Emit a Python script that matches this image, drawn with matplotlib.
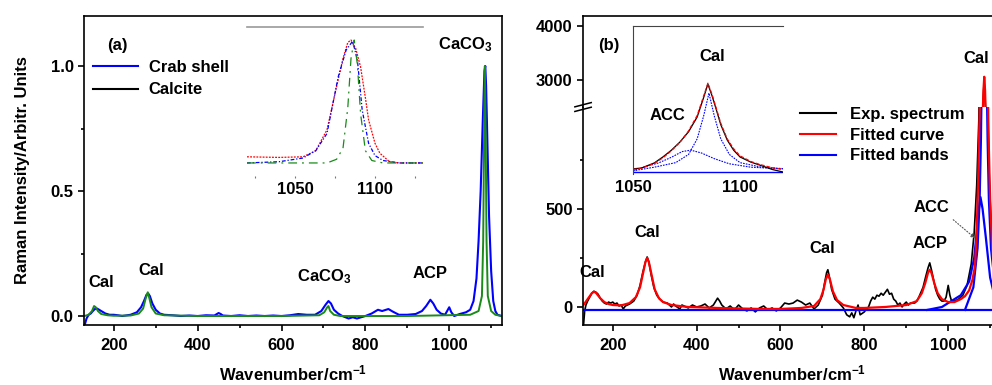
import matplotlib
matplotlib.use('Agg')
from matplotlib import pyplot as plt
from matplotlib.lines import Line2D

plt.rcParams['font.family'] = ['Liberation Sans', 'DejaVu Sans']
plt.rcParams['font.weight'] = 'bold'
plt.rcParams['font.size'] = 12
plt.rcParams['mathtext.fontset'] = 'custom'
plt.rcParams['mathtext.rm'] = 'Liberation Sans:bold'
plt.rcParams['mathtext.bf'] = 'Liberation Sans:bold'
plt.rcParams['mathtext.default'] = 'bf'

#######################################################################################################################
# data
# (a) crab shell (blue) vs calcite (green), normalised
crab_x = [130, 135, 140, 145, 150, 155, 160, 165, 170, 180, 190, 200, 210, 220, 240, 255, 265, 272, 278, 282, 286,
          292, 300, 310, 320, 340, 360, 380, 400, 420, 440, 450, 455, 460, 480, 500, 520, 540, 560, 580, 600, 620, 640,
          660, 680, 695, 705, 712, 718, 725, 735, 745, 760, 770, 780, 790, 800, 815, 830, 840, 855, 865, 880, 900, 920,
          935, 945, 955, 962, 970, 980, 990, 1000, 1005, 1012, 1025, 1040, 1050, 1058, 1065, 1070, 1075, 1080, 1084,
          1086, 1088, 1091, 1095, 1100, 1105, 1110, 1115, 1125]
crab_y = [-0.04, -0.01, 0.005, 0.01, 0.02, 0.028, 0.03, 0.025, 0.02, 0.01, 0.005, 0.005, 0.003, 0.0, 0.005, 0.015,
          0.035, 0.06, 0.085, 0.09, 0.08, 0.05, 0.025, 0.01, 0.005, 0.003, 0.0, 0.002, 0.0, 0.003, 0.002, 0.012, 0.008,
          0.002, 0.0, 0.003, 0.0, 0.002, 0.0, 0.002, 0.0, 0.003, 0.008, 0.005, 0.005, 0.02, 0.045, 0.06, 0.05, 0.025,
          0.01, 0.0, -0.01, -0.005, -0.01, -0.005, 0.0, 0.01, 0.025, 0.02, 0.028, 0.018, 0.005, 0.005, 0.008, 0.02,
          0.04, 0.065, 0.05, 0.025, 0.01, 0.005, 0.035, 0.015, 0.0, 0.008, 0.015, 0.025, 0.06, 0.15, 0.3, 0.5, 0.78,
          0.98, 1.0, 0.92, 0.7, 0.4, 0.18, 0.06, 0.02, 0.005, 0.0]
calc_x = [130, 140, 148, 153, 157, 162, 170, 185, 200, 240, 260, 270, 276, 281, 285, 290, 300, 320, 400, 600, 690,
          702, 709, 712, 716, 725, 740, 900, 1050, 1070, 1078, 1081, 1083, 1085, 1087, 1089, 1092, 1100, 1110, 1125]
calc_y = [0.0, 0.005, 0.02, 0.04, 0.035, 0.02, 0.008, 0.003, 0.001, 0.002, 0.01, 0.03, 0.07, 0.095, 0.07, 0.035, 0.01,
          0.003, 0.0, 0.0, 0.003, 0.015, 0.035, 0.04, 0.02, 0.005, 0.0, 0.0, 0.005, 0.02, 0.08, 0.3, 0.7, 1.0, 0.7, 0.3,
          0.08, 0.02, 0.005, 0.0]
# (a) inset
ins_red_x = [1020, 1040, 1055, 1063, 1070, 1076, 1080, 1083, 1085, 1088, 1091, 1094, 1096, 1100, 1103, 1109, 1115, 1130]
ins_red_y = [0.05, 0.045, 0.05, 0.1, 0.27, 0.62, 0.85, 0.98, 1.0, 0.93, 0.78, 0.53, 0.35, 0.16, 0.08, 0.01, 0.0, 0.0]
ins_blue_x = [1020, 1040, 1055, 1063, 1070, 1077, 1082, 1086, 1089, 1092, 1096, 1100, 1105, 1115, 1130]
ins_blue_y = [0.0, 0.01, 0.04, 0.1, 0.24, 0.7, 0.92, 0.99, 0.84, 0.43, 0.16, 0.06, 0.02, 0.0, 0.0]
ins_green_x = [1020, 1070, 1076, 1080, 1083, 1085, 1087, 1089, 1091, 1094, 1098, 1105, 1130]
ins_green_y = [0.0, 0.0, 0.03, 0.12, 0.45, 0.85, 1.0, 0.8, 0.4, 0.1, 0.02, 0.0, 0.0]

# (b) experimental spectrum, fitted curve and bands
exp_x = [130, 133, 136, 140, 145, 150, 155, 160, 165, 170, 175, 180, 185, 190, 195, 200, 205, 210, 215, 220, 225, 230,
         240, 250, 258, 265, 272, 278, 282, 286, 292, 298, 305, 312, 320, 330, 340, 345, 350, 360, 365, 370, 380, 390,
         400, 410, 420, 430, 440, 450, 455, 460, 470, 480, 490, 500, 510, 520, 530, 540, 550, 560, 570, 580, 590, 600,
         610, 620, 630, 640, 645, 650, 660, 670, 680, 690, 700, 705, 710, 713, 717, 722, 730, 740, 750, 758, 765, 770,
         775, 780, 785, 790, 800, 805, 810, 815, 820, 825, 830, 835, 840, 845, 850, 855, 860, 865, 870, 875, 880, 885,
         890, 895, 900, 905, 910, 920, 925, 930, 940, 947, 952, 956, 960, 965, 970, 975, 980, 985, 990, 995, 1000, 1004,
         1008, 1015, 1025, 1035, 1045, 1055, 1062, 1068, 1073, 1078, 1083, 1086, 1089, 1093, 1098, 1104, 1110, 1118,
         1125]
exp_y = [-100, -20, 10, 30, 50, 70, 80, 75, 65, 45, 30, 20, 15, 25, 20, 25, 15, 20, 5, 10, -10, 5, 15, 30, 60, 110,
         180, 230, 255, 230, 160, 100, 60, 40, 25, 20, 0, 15, 5, -10, 10, 5, -5, 10, 0, 5, 15, -5, 10, 45, 30, 10, -10,
         5, -15, 10, -10, -20, -5, -25, -5, 5, -15, -5, -20, -5, 20, 15, 20, 35, 30, 25, 10, 20, -10, 10, 60, 120, 175,
         190, 150, 90, 40, 20, -5, -40, -50, -30, -55, -20, 10, -40, -25, -10, 0, 30, 50, 40, 60, 55, 70, 60, 75, 90,
         65, 70, 40, 30, 10, 20, 0, 15, 25, 10, 20, 20, 30, 50, 100, 160, 200, 225, 190, 140, 90, 60, 40, 30, 30, 50,
         110, 60, 30, 30, 40, 60, 110, 220, 380, 620, 950, 1600, 2600, 3000, 2500, 1200, 650, 330, 180, 90, 50]
fit_x = [130, 140, 150, 155, 160, 170, 180, 190, 200, 220, 240, 255, 265, 272, 278, 282, 286, 292, 300, 310, 320, 340,
         380, 450, 550, 600, 650, 680, 695, 703, 708, 713, 718, 725, 735, 750, 780, 800, 850, 900, 925, 937, 945, 952,
         956, 960, 967, 975, 985, 1000, 1015, 1030, 1040, 1050, 1058, 1064, 1068, 1072, 1075, 1078, 1081, 1084, 1086,
         1088, 1090, 1093, 1096, 1100, 1105, 1110, 1118, 1125]
fit_y = [10, 40, 70, 78, 72, 45, 25, 15, 10, 8, 20, 50, 100, 170, 230, 250, 230, 170, 90, 45, 25, 10, 0, -5, -10, -10,
         -5, 5, 40, 90, 140, 165, 140, 80, 35, 10, -5, -5, 0, 10, 30, 70, 120, 175, 190, 175, 120, 70, 40, 25, 25, 40,
         55, 85, 140, 210, 380, 700, 1000, 1400, 2000, 2800, 3060, 2800, 2200, 1400, 900, 550, 300, 180, 100, 60]
base_x = [130, 1125]
base_y = [-15, -15]
acc_x = [950, 985, 1000, 1030, 1050, 1062, 1068, 1072, 1077, 1082, 1090, 1100, 1110, 1125]
acc_y = [-15, 0, 20, 60, 130, 250, 380, 480, 560, 500, 350, 150, 60, 25]
cal_x = [1040, 1060, 1070, 1075, 1078, 1081, 1083, 1086, 1089, 1091, 1094, 1097, 1102, 1112, 1125]
cal_y = [-15, 100, 300, 550, 850, 1300, 1800, 2400, 1800, 1300, 850, 550, 300, 100, 40]
# (b) inset
bi_exp_x = [1050, 1054, 1060, 1064, 1068, 1072, 1076, 1080, 1083, 1085, 1087, 1089, 1091, 1094, 1097, 1100, 1105, 1109,
            1115, 1120]
bi_exp_y = [40, 70, 250, 460, 700, 990, 1350, 1870, 2550, 3030, 2600, 2110, 1600, 1060, 700, 460, 280, 180, 20, -70]
bi_fit_x = [1050, 1054, 1060, 1064, 1068, 1072, 1076, 1080, 1083, 1085, 1087, 1089, 1091, 1094, 1097, 1100, 1105, 1109,
            1115, 1120]
bi_fit_y = [20, 60, 230, 430, 680, 980, 1380, 1920, 2600, 3060, 2650, 2150, 1650, 1100, 750, 500, 300, 200, 80, 20]
bi_acc_x = [1050, 1055, 1062, 1068, 1073, 1077, 1082, 1088, 1095, 1105, 1120]
bi_acc_y = [-30, 100, 250, 450, 650, 700, 600, 400, 220, 100, 40]
bi_cal_x = [1050, 1060, 1070, 1076, 1080, 1083, 1085.5, 1088, 1091, 1095, 1100, 1110, 1120]
bi_cal_y = [-30, 100, 260, 550, 1100, 1900, 2710, 1900, 1100, 550, 260, 100, 50]
bi_base_x = [1050, 1120]
bi_base_y = [-60, -60]
#######################################################################################################################

fig = plt.figure(figsize=(9.92, 3.85), dpi=100)


def style_axis(ax):
    ax.tick_params(which='both', direction='out', width=1.2, labelsize=12)
    ax.tick_params(which='major', length=4)
    ax.tick_params(which='minor', length=2.5)
    ax.tick_params(axis='x', which='major', pad=5)
    for s in ax.spines.values():
        s.set_linewidth(1.2)


# ---------------- panel (a)
ax_a = fig.add_axes([0.0847, 0.1558, 0.4214, 0.8026])
ax_a.plot(crab_x, crab_y, color='blue', lw=1.5)
ax_a.plot(calc_x, calc_y, color='#1a8a1a', lw=1.4)
ax_a.set_xlim(129, 1126)
ax_a.set_ylim(-0.036, 1.2)
ax_a.set_xticks([200, 400, 600, 800, 1000])
ax_a.set_xticks([300, 500, 700, 900, 1100], minor=True)
ax_a.set_yticks([0.0, 0.5, 1.0])
ax_a.set_yticks([0.25, 0.75], minor=True)
ax_a.set_yticklabels(['0.0', '0.5', '1.0'])
style_axis(ax_a)
ax_a.set_xlabel(r'Wavenumber/cm$^{-1}$', fontsize=12, fontweight='bold', labelpad=8)
ax_a.set_ylabel('Raman Intensity/Arbitr. Units', fontsize=12, fontweight='bold', labelpad=15)

ax_a.text(0.08, 0.903, '(a)', transform=ax_a.transAxes, ha='center', va='center', fontsize=12)
leg_a = ax_a.legend([Line2D([], [], color='blue', lw=1.5), Line2D([], [], color='black', lw=1.5)],
                    ['Crab shell', 'Calcite'], loc='upper left', bbox_to_anchor=(0.021, 0.858),
                    frameon=False, handlelength=2.7, handletextpad=0.65, labelspacing=0.45, borderpad=0,
                    borderaxespad=0, prop={'weight': 'bold', 'size': 12})

for txt, xx, yy in [('Cal', 171, 0.136), ('Cal', 290, 0.184), ('CaCO$_3$', 702, 0.156), ('ACP', 955, 0.172),
                    ('CaCO$_3$', 1038, 1.084)]:
    ax_a.text(xx, yy, txt, ha='center', va='center', fontsize=12)

# inset (a)
ins_a = fig.add_axes([0.249, 0.5429, 0.1774, 0.387])
ins_a.patch.set_alpha(0)
ins_a.plot(ins_red_x, ins_red_y, color='red', lw=0.9, ls=(0, (1.5, 1)))
ins_a.plot(ins_blue_x, ins_blue_y, color='blue', lw=0.9, ls=(0, (3, 1.5, 1, 1.5)))
ins_a.plot(ins_green_x, ins_green_y, color='#1a8a1a', lw=0.9, ls=(0, (7, 4, 1.5, 4)))
ins_a.set_xlim(1020, 1130)
ins_a.set_ylim(-0.106, 1.106)
for s in ['left', 'right', 'bottom']:
    ins_a.spines[s].set_visible(False)
ins_a.spines['top'].set_color('#999999')
ins_a.spines['top'].set_linewidth(1.2)
ins_a.set_yticks([])
ins_a.set_xticks([1050, 1100])
ins_a.set_xticks([1025, 1075, 1125], minor=True)
ins_a.tick_params(which='both', direction='out', length=1.5, width=0.8, color='#777777', labelsize=12, pad=3)

# ---------------- panel (b)
ax_b = fig.add_axes([0.5877, 0.1558, 0.4214, 0.5663])
ax_t = fig.add_axes([0.5877, 0.7221, 0.4214, 0.2363])
for ax in (ax_b, ax_t):
    ax.plot(exp_x, exp_y, color='black', lw=1.2)
    ax.plot(base_x, base_y, color='blue', lw=1.6)
    ax.plot(acc_x, acc_y, color='blue', lw=1.6)
    ax.plot(cal_x, cal_y, color='blue', lw=1.6)
    ax.plot(fit_x, fit_y, color='red', lw=1.6)
    ax.set_xlim(129, 1126)
    style_axis(ax)
ax_b.set_ylim(-92, 1020)
ax_t.set_ylim(2500, 4185)
ax_b.spines['top'].set_visible(False)
ax_t.spines['bottom'].set_visible(False)
ax_t.tick_params(axis='x', which='both', bottom=False, labelbottom=False)
ax_b.set_xticks([200, 400, 600, 800, 1000])
ax_b.set_xticks([300, 500, 700, 900, 1100], minor=True)
ax_b.set_yticks([0, 500])
ax_b.set_yticks([250, 750], minor=True)
ax_t.set_yticks([3000, 4000])
ax_b.set_xlabel(r'Wavenumber/cm$^{-1}$', fontsize=12, fontweight='bold', labelpad=8)

# axis break marks
for dy in (-0.006, 0.006):
    fig.add_artist(Line2D([0.5795, 0.5960], [0.7165 + dy, 0.7275 + dy], color='black', lw=1.1,
                          transform=fig.transFigure))

for txt, xx, yy in [('Cal', 152, 178), ('Cal', 281, 378), ('Cal', 700, 300), ('ACP', 957, 326), ('ACC', 960, 505)]:
    ax_b.text(xx, yy, txt, ha='center', va='center', fontsize=12)
ax_b.annotate('', xy=(1069, 342), xytext=(1007, 454),
              arrowprops=dict(arrowstyle='-|>', color='#555555', lw=0.8, ls=':', mutation_scale=6))
ax_t.text(1067, 3407, 'Cal', ha='center', va='center', fontsize=12)
fig.text(0.614, 0.883, '(b)', ha='center', va='center', fontsize=12)

leg_b = fig.legend([Line2D([], [], color='black', lw=1.5), Line2D([], [], color='red', lw=1.5),
                    Line2D([], [], color='blue', lw=1.5)],
                   ['Exp. spectrum', 'Fitted curve', 'Fitted bands'], loc='upper left',
                   bbox_to_anchor=(0.806, 0.722), frameon=False, handlelength=2.2, handletextpad=0.8,
                   labelspacing=0.34, borderpad=0, borderaxespad=0, prop={'weight': 'bold', 'size': 12})

# inset (b)
ins_b = fig.add_axes([0.638, 0.548, 0.1512, 0.3844])
ins_b.patch.set_alpha(0)
ins_b.plot(bi_base_x, bi_base_y, color='blue', lw=1.0)
ins_b.plot(bi_acc_x, bi_acc_y, color='blue', lw=0.8, ls=(0, (1.5, 1)))
ins_b.plot(bi_cal_x, bi_cal_y, color='blue', lw=0.8, ls=(0, (1.5, 1)))
ins_b.plot(bi_exp_x, bi_exp_y, color='black', lw=0.9)
ins_b.plot(bi_fit_x, bi_fit_y, color='red', lw=0.9, ls=(0, (3, 1.5)))
ins_b.set_xlim(1050, 1120)
ins_b.set_ylim(-141, 5074)
ins_b.spines['right'].set_visible(False)
ins_b.spines['bottom'].set_visible(False)
ins_b.spines['left'].set_color('#444444')
ins_b.spines['top'].set_color('#444444')
ins_b.set_yticks([])
ins_b.set_xticks([1050, 1100])
ins_b.tick_params(axis='x', length=0, labelsize=12, pad=4)
ins_b.text(1087, 4017, 'Cal', ha='center', va='center', fontsize=12)
ins_b.text(1066, 1938, 'ACC', ha='center', va='center', fontsize=12)

fig.savefig('out.png', dpi=100)
